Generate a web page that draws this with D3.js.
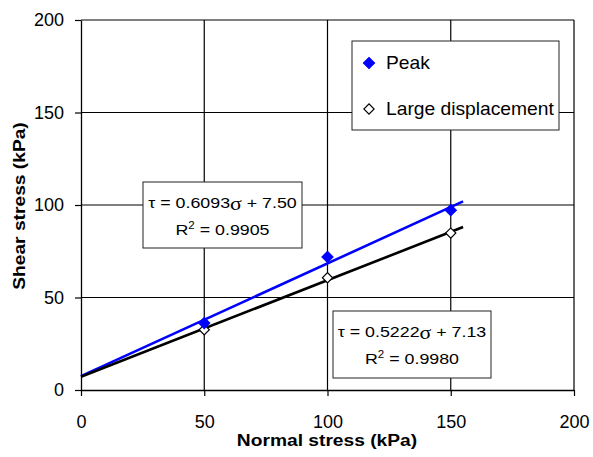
<!DOCTYPE html>
<html>
<head>
<meta charset="utf-8">
<script src="https://cdn.jsdelivr.net/npm/d3@7"></script>
<style>
  html, body { margin: 0; padding: 0; background: #fff; }
  svg { display: block; }
  text { font-family: "Liberation Sans", Arial, sans-serif; fill: #000; }
</style>
</head>
<body>
<svg id="chart" width="593" height="457"></svg>
<script>
// Direct shear test results: normal stress vs shear stress (kPa)
const normalStress = [50, 100, 150];
const peakStress = [36.2, 71.9, 97.2];
const largeDispStress = [32.6, 60.7, 84.8];

// Linear fits (slope, intercept, R²)
const peakFit = { slope: 0.6093, intercept: 7.50, r2: 0.9905 };
const largeFit = { slope: 0.5222, intercept: 7.13, r2: 0.9980 };
const fitRange = [0, 155];

const xTicks = [0, 50, 100, 150, 200];
const yTicks = [0, 50, 100, 150, 200];
const seriesNames = ["Peak", "Large displacement"];

const svg = d3.select("#chart");
const x = d3.scaleLinear().domain([0, 200]).range([81, 574]);
const y = d3.scaleLinear().domain([0, 200]).range([390, 20]);

// gridlines and frame
const grid = svg.append("g").attr("stroke", "#000").attr("stroke-width", 1.2);
grid.selectAll("line.gx").data(xTicks.slice(1)).join("line")
  .attr("x1", d => x(d)).attr("x2", d => x(d))
  .attr("y1", y(0)).attr("y2", y(200));
grid.selectAll("line.gy").data(yTicks.slice(1)).join("line")
  .attr("x1", x(0)).attr("x2", x(200))
  .attr("y1", d => y(d)).attr("y2", d => y(d));

// axes
const xAxis = svg.append("g").attr("transform", `translate(0,${y(0)})`)
  .call(d3.axisBottom(x).tickValues(xTicks).tickSize(6).tickPadding(19).tickSizeOuter(0));
const yAxis = svg.append("g").attr("transform", `translate(${x(0)},0)`)
  .call(d3.axisLeft(y).tickValues(yTicks).tickSize(6).tickPadding(11).tickSizeOuter(0));
[xAxis, yAxis].forEach(a => {
  a.select(".domain").attr("stroke", "#000").attr("stroke-width", 1.3);
  a.selectAll(".tick line").attr("stroke", "#000").attr("stroke-width", 1.2);
  a.selectAll(".tick text").attr("font-family", "Liberation Sans, Arial, sans-serif")
    .attr("font-size", 18).attr("fill", "#000");
});

// fitted lines
const fitLine = f => d3.line()
  .x(d => x(d))
  .y(d => y(f.slope * d + f.intercept))(fitRange);
svg.append("path").attr("d", fitLine(peakFit))
  .attr("fill", "none").attr("stroke", "#0000ff").attr("stroke-width", 2.6);
svg.append("path").attr("d", fitLine(largeFit))
  .attr("fill", "none").attr("stroke", "#000").attr("stroke-width", 2.6);

// markers: squares turned 45° so they read as even diamonds
const openDiamond = d3.symbol().type(d3.symbolSquare).size(52);
const solidDiamond = d3.symbol().type(d3.symbolSquare).size(64);
svg.append("g").selectAll("path").data(normalStress).join("path")
  .attr("d", openDiamond)
  .attr("transform", (d, i) => `translate(${x(d)},${y(largeDispStress[i])}) rotate(45)`)
  .attr("fill", "#fff").attr("stroke", "#000").attr("stroke-width", 1.2);
svg.append("g").selectAll("path").data(normalStress).join("path")
  .attr("d", solidDiamond)
  .attr("transform", (d, i) => `translate(${x(d)},${y(peakStress[i])}) rotate(45)`)
  .attr("fill", "#0000ff").attr("stroke", "#0000ff").attr("stroke-width", 1);

// stretched text helper
function label(g, tx, ty, sx, size, anchor, weight) {
  return g.append("text")
    .attr("transform", `translate(${tx},${ty}) scale(${sx},1)`)
    .attr("font-size", size)
    .attr("text-anchor", anchor)
    .attr("font-weight", weight || "normal");
}

// axis titles
label(svg, 327, 446, 1.13, 17, "middle", "bold").text("Normal stress (kPa)");
svg.append("text")
  .attr("transform", `translate(25,206) rotate(-90) scale(1.13,1)`)
  .attr("font-size", 17).attr("font-weight", "bold").attr("text-anchor", "middle")
  .text("Shear stress (kPa)");

// legend
const leg = svg.append("g");
leg.append("rect").attr("x", 352).attr("y", 41).attr("width", 207).attr("height", 89)
  .attr("fill", "#fff").attr("stroke", "#222").attr("stroke-width", 1);
leg.append("path").attr("d", solidDiamond).attr("transform", "translate(369,63) rotate(45)")
  .attr("fill", "#0000ff").attr("stroke", "#0000ff");
leg.append("path").attr("d", openDiamond).attr("transform", "translate(369,109) rotate(45)")
  .attr("fill", "#fff").attr("stroke", "#000").attr("stroke-width", 1.2);
label(leg, 386, 69, 1.1, 17.5, "start").text(seriesNames[0]);
label(leg, 386, 115, 1.1, 17.5, "start").text(seriesNames[1]);

// equation boxes
function eqBox(bx, by, bw, bh, f) {
  const g = svg.append("g");
  g.append("rect").attr("x", bx).attr("y", by).attr("width", bw).attr("height", bh)
    .attr("fill", "#fff").attr("stroke", "#222").attr("stroke-width", 1);
  const cx = bx + bw / 2;
  const t1 = label(g, cx, by + 26, 1.15, 15.5, "middle");
  t1.append("tspan").text(`τ = ${f.slope.toFixed(4)}`);
  t1.append("tspan").attr("font-family", "Liberation Serif, serif").attr("font-size", 19)
    .attr("dy", 2).text("σ");
  t1.append("tspan").attr("dy", -2).text(` + ${f.intercept.toFixed(2)}`);
  const t2 = label(g, cx, by + 53, 1.15, 15.5, "middle");
  t2.append("tspan").text("R");
  t2.append("tspan").attr("font-size", 10).attr("dy", -6).text("2");
  t2.append("tspan").attr("dy", 6).text(` = ${f.r2.toFixed(4)}`);
}
eqBox(143, 182, 159, 66, peakFit);
eqBox(333, 311, 158, 67, largeFit);
</script>
</body>
</html>
